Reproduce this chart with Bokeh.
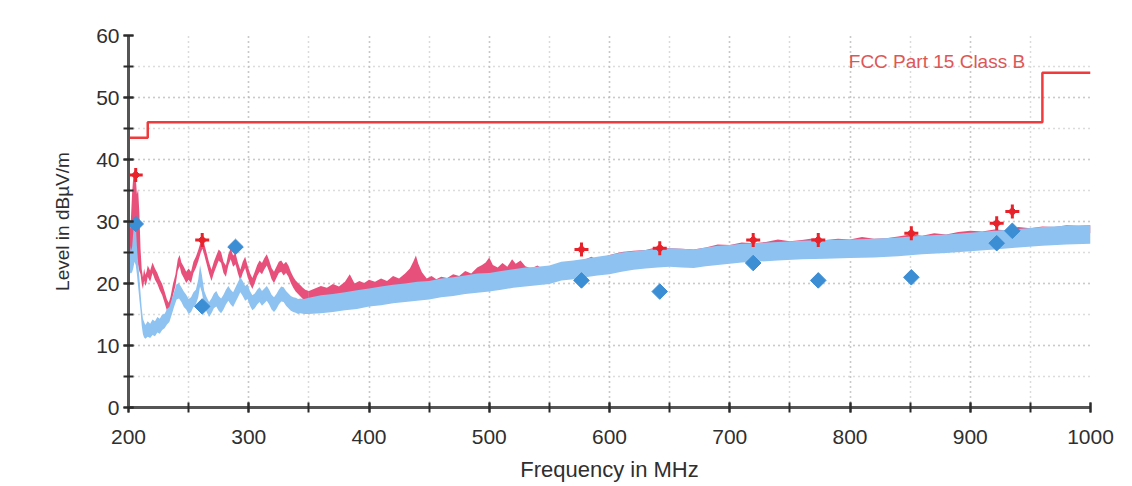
import math
from bokeh.plotting import figure
from bokeh.models import SingleIntervalTicker, Label, Range1d
from bokeh.embed import file_html
from bokeh.resources import INLINE

# ---- Data ----
# Limit line: FCC Part 15 Class B (value holds until next frequency)
limit_freq = [200, 216, 960, 1000]
limit_level = [43.5, 46.0, 54.0, 54.0]

# Peak trace (pink), 200-350 MHz: lower / upper edge of the trace
peak_freq_a = [200, 201, 202, 203, 204, 205, 206, 207, 208, 209, 210, 211, 212, 213, 214, 215,
               216, 218, 220, 222, 224, 226, 228, 230, 232, 233.5, 235, 237, 239, 241, 242.5,
               244, 246, 248, 250, 252, 254, 256, 258, 260, 261.5, 263, 265, 267, 269, 271,
               273, 275, 277, 279, 281, 283, 285, 287, 289, 291, 293, 295, 297, 299, 301, 303,
               305, 307, 309, 311, 313, 315, 317, 319, 321, 323, 325, 327, 329, 331, 333, 335,
               337, 339, 341, 343, 345, 347, 350]
peak_lo_a = [21.5, 22.0, 22.5, 23.0, 24.0, 25.0, 25.0, 24.0, 23.0, 22.0, 21.5, 19.9, 19.1, 20.5, 19.6, 20.1,
             21.1, 20.3, 21.7, 20.6, 19.9, 18.9, 18.1, 16.9, 15.6, 15.1, 16.1, 18.1, 19.6, 22.1, 22.8,
             21.6, 20.9, 20.1, 20.6, 20.1, 21.7, 22.5, 23.6, 24.9, 25.6, 24.6, 23.1, 21.6, 20.4, 21.7,
             22.7, 23.7, 23.3, 21.7, 21.1, 22.9, 23.9, 22.7, 23.1, 21.6, 20.4, 21.7, 22.5, 21.1, 19.9, 19.1,
             20.1, 21.2, 21.9, 21.5, 22.3, 22.9, 21.9, 20.7, 20.1, 20.9, 21.7, 21.9, 21.3, 21.7, 21.1, 20.1,
             19.3, 18.7, 18.3, 17.9, 17.5, 17.2, 17.0]
peak_hi_a = [25.2, 28.2, 30.4, 34.6, 37.3, 38.3, 37.2, 34.4, 35.2, 31.5, 25.6, 22.3, 21.0, 22.4, 21.4, 21.9,
             22.9, 22.1, 23.4, 22.4, 21.7, 20.7, 19.9, 18.7, 17.4, 16.9, 17.9, 19.9, 21.4, 23.9, 24.6,
             23.4, 22.7, 21.9, 22.4, 21.9, 23.5, 24.3, 25.4, 26.7, 27.5, 26.4, 24.9, 23.4, 22.2, 23.5,
             24.5, 25.5, 25.1, 23.5, 22.9, 24.7, 25.7, 24.5, 24.9, 23.4, 22.2, 23.5, 24.3, 22.9, 21.7, 20.9,
             21.9, 23.0, 23.7, 23.3, 24.1, 24.7, 23.7, 22.5, 21.9, 22.7, 23.5, 23.7, 23.1, 23.5, 22.9, 21.9,
             21.1, 20.5, 20.1, 19.7, 19.3, 19.0, 18.8]

# Peak trace (pink), 350-1000 MHz: lower / upper edge of the band
peak_freq_b = [350, 355, 360, 365, 370, 375, 380, 384, 388, 392, 396, 400, 405, 410, 415, 420,
               425, 430, 434, 437, 439, 441, 444, 448, 452, 456, 460, 465, 470, 475, 480, 485,
               490, 494, 497, 500, 503, 507, 511, 515, 519, 522, 526, 530, 535, 540, 545, 550,
               555, 560, 565, 570, 575, 580, 585, 590, 595, 600, 610, 620, 630, 640, 650, 660,
               670, 680, 690, 700, 710, 720, 730, 740, 750, 760, 770, 780, 790, 800, 810, 820,
               830, 840, 850, 860, 870, 880, 890, 900, 910, 920, 930, 940, 950, 960, 970, 980,
               990, 1000]
peak_lo_b = [16.5, 16.5, 16.6, 16.8, 16.9, 17, 17.2, 17.3, 17.4, 17.5, 17.6, 17.8, 17.9, 18, 18.1, 18.3,
             18.4, 18.5, 18.6, 18.6, 18.7, 18.7, 18.8, 18.9, 19, 19.1, 19.3, 19.4, 19.5, 19.6, 19.8, 19.9,
             20, 20.1, 20.1, 20.2, 20.3, 20.4, 20.5, 20.6, 20.7, 20.8, 20.9, 21, 21.1, 21.2, 21.3, 21.4,
             21.7, 22, 22.1, 22.2, 22.4, 22.5, 22.6, 22.8, 23, 23.2, 23.6, 23.9, 24.1, 24.3, 24.4, 24.3,
             24.2, 24.5, 24.7, 24.9, 25.1, 25.2, 25.3, 25.4, 25.5, 25.6, 25.6, 25.7, 25.7, 25.8, 25.8, 25.9,
             26, 26.1, 26.3, 26.4, 26.5, 26.6, 26.7, 26.9, 27, 27.2, 27.3, 27.5, 27.6, 27.8, 27.9, 28,
             28.1, 28.1]
peak_hi_b = [18.8, 19.2, 19.6, 19.3, 19.9, 19.5, 20.3, 21.5, 20, 20.4, 20.1, 20.6, 20.3, 20.8, 20.4, 21.2,
             20.8, 21.6, 22.4, 23.6, 24.5, 23.2, 21.8, 20.8, 21.2, 20.7, 21.1, 20.9, 21.5, 21.2, 22, 21.6,
             22.6, 23, 23.4, 24.2, 23, 22.6, 23.3, 22.7, 23.9, 23.2, 23.7, 22.8, 22.4, 22.9, 22.3, 22.7,
             22.2, 22.6, 22.5, 22.9, 23.6, 23.9, 24.3, 23.8, 24.2, 24.6, 25.1, 25.3, 25.4, 25.9, 25.7, 25.6,
             25.5, 25.8, 26.3, 26.2, 26.6, 26.5, 26.7, 27.1, 26.8, 27.0, 27.3, 27.0, 27.2, 27.1, 27.5, 27.2,
             27.3, 27.6, 27.9, 27.7, 28.1, 27.9, 28.3, 28.5, 28.4, 28.7, 28.6, 29.1, 28.9, 29.2, 29.1, 29.4,
             29.3, 29.4]

# Average trace (light blue): lower / upper edge of the trace
avg_freq = [200, 201, 202, 203, 204, 205, 206, 207, 208, 209, 210, 211, 212, 213, 214, 216,
            218, 220, 222, 224, 226, 228, 230, 232, 234, 236, 238, 240, 242, 244, 246, 248,
            250, 252, 254, 256, 258, 259.5, 261, 263, 265, 267, 269, 271, 273, 275, 277, 279,
            281, 283, 285, 287, 289, 291, 293, 295, 297, 299, 301, 303, 305, 307, 309, 311,
            313, 315, 317, 319, 321, 323, 325, 327, 329, 331, 333, 335, 337, 339, 341, 343,
            346, 350, 360, 370, 380, 390, 400, 410, 420, 430, 440, 450, 460, 470, 480, 490,
            500, 510, 520, 530, 540, 550, 560, 570, 580, 590, 600, 610, 620, 630, 640, 650,
            660, 670, 680, 690, 700, 710, 720, 740, 760, 780, 800, 820, 840, 860, 880, 900,
            920, 940, 960, 980, 1000]
avg_lo = [21.5, 21.8, 21.6, 21.8, 22.5, 23.5, 23.0, 21.5, 19.5, 17.5, 15.6, 13.2, 11.8, 11.3, 11.1, 11.4,
          11.2, 11.7, 11.5, 12.1, 11.9, 12.5, 12.8, 13.4, 13.8, 15.0, 16.3, 17.4, 17.6, 17.0, 16.2, 15.8,
          15.1, 15.4, 16.2, 16.6, 17.8, 19.5, 18.6, 16.4, 15.4, 14.6, 15.2, 16.0, 16.3, 15.6, 15.2, 15.8,
          16.6, 17.2, 16.6, 16.2, 17.0, 17.8, 18.6, 18.0, 17.2, 17.5, 16.4, 15.7, 16.0, 16.6, 17.0, 16.4,
          16.8, 17.2, 16.6, 15.8, 15.4, 15.9, 16.6, 17.1, 17.0, 16.4, 16.0, 15.6, 15.4, 15.3, 15.1, 15.2,
          15.1, 15.1, 15.2, 15.4, 15.7, 15.9, 16.3, 16.5, 16.8, 17.0, 17.2, 17.4, 17.8, 18.0, 18.3, 18.5,
          18.7, 19.0, 19.3, 19.5, 19.7, 19.9, 20.5, 20.7, 21.0, 21.3, 21.5, 21.9, 22.2, 22.4, 22.6, 22.7,
          22.6, 22.5, 22.8, 23.0, 23.2, 23.4, 23.5, 23.7, 23.9, 24.0, 24.1, 24.2, 24.4, 24.7, 24.9, 25.2,
          25.5, 25.8, 26.1, 26.3, 26.4]
avg_hi = [25.8, 26.4, 25.2, 25.9, 28.3, 30.8, 29.8, 26.0, 23.4, 21.0, 18.5, 16.0, 14.3, 13.8, 13.3, 13.9,
          13.5, 14.2, 13.9, 14.6, 14.3, 15.0, 15.1, 15.9, 16.2, 17.5, 18.7, 19.9, 20.0, 19.4, 18.7, 18.2,
          17.5, 17.8, 18.6, 19.0, 20.6, 23.0, 21.4, 18.8, 17.8, 17.0, 17.6, 18.4, 18.8, 18.0, 17.6, 18.2,
          19.0, 19.6, 19.0, 18.6, 19.4, 20.2, 21.0, 20.4, 19.6, 19.9, 18.8, 18.1, 18.4, 19.0, 19.4, 18.8,
          19.2, 19.6, 19.0, 18.2, 17.8, 18.3, 19.0, 19.5, 19.4, 18.8, 18.4, 18.0, 17.8, 17.7, 17.5, 17.6,
          17.5, 17.7, 18.1, 18.3, 18.6, 18.9, 19.2, 19.5, 19.8, 20.0, 20.3, 20.4, 20.8, 21.0, 21.3, 21.6,
          21.7, 22.0, 22.3, 22.6, 22.7, 22.9, 23.5, 23.7, 24.0, 24.3, 24.6, 25.0, 25.2, 25.4, 25.6, 25.7,
          25.6, 25.5, 25.8, 26.1, 26.2, 26.4, 26.5, 26.7, 26.9, 27.0, 27.1, 27.2, 27.4, 27.7, 27.9, 28.2,
          28.5, 28.8, 29.1, 29.3, 29.4]

# Final measurements: peak (red stars) and average (blue diamonds)
pk_freq = [206, 261.3, 576.7, 641.8, 719.5, 773.6, 851, 922, 935]
pk_level = [37.5, 27.0, 25.5, 25.7, 27.0, 27.0, 28.1, 29.7, 31.6]
av_freq = [206, 261.3, 289, 576.7, 641.8, 719.5, 773.6, 851, 922, 935]
av_level = [29.6, 16.3, 25.9, 20.5, 18.7, 23.3, 20.5, 21.0, 26.5, 28.5]

x_tick_interval = 100
y_tick_interval = 10

PINK = "#e8507c"
BLUE = "#8ec2f0"

# ---- Figure ----
p = figure(width=1132, height=486, x_range=Range1d(200, 1000), y_range=Range1d(0, 60),
           output_backend="svg", toolbar_location=None,
           min_border_left=128, min_border_right=42, min_border_top=35, min_border_bottom=79)
p.outline_line_color = None
p.background_fill_color = "white"
p.border_fill_color = "white"

for g in (p.xgrid, p.ygrid):
    g.grid_line_color = "#b8b8b8"
    g.grid_line_dash = "1 4"
    g.grid_line_width = 1.5
    g.minor_grid_line_color = "#b8b8b8"
    g.minor_grid_line_dash = "1 4"
    g.minor_grid_line_width = 1.5

p.xaxis.ticker = SingleIntervalTicker(interval=x_tick_interval, num_minor_ticks=2)
p.yaxis.ticker = SingleIntervalTicker(interval=y_tick_interval, num_minor_ticks=2)

for ax in (p.xaxis, p.yaxis):
    ax.axis_line_color = "#555555"
    ax.axis_line_width = 3
    ax.major_tick_line_color = "#2b2b2b"
    ax.minor_tick_line_color = "#2b2b2b"
    ax.major_tick_line_width = 2
    ax.minor_tick_line_width = 2
    ax.major_tick_in = 5
    ax.major_tick_out = 5
    ax.minor_tick_in = 5
    ax.minor_tick_out = 5
    ax.major_label_text_font = "Liberation Sans"
    ax.major_label_text_font_size = "21px"
    ax.major_label_text_color = "#2f2f2f"
    ax.axis_label_text_font = "Liberation Sans"
    ax.axis_label_text_font_style = "normal"
    ax.axis_label_text_color = "#2f2f2f"

p.xaxis.axis_label = "Frequency in MHz"
p.xaxis.axis_label_text_font_size = "22px"
p.xaxis.major_label_standoff = 17
p.xaxis.axis_label_standoff = 10
p.yaxis.axis_label = "Level in dBµV/m"
p.yaxis.axis_label_text_font_size = "19px"
p.yaxis.major_label_standoff = 4
p.yaxis.axis_label_standoff = 20

# traces
p.varea(x=peak_freq_a, y1=peak_lo_a, y2=peak_hi_a, fill_color=PINK)
p.varea(x=peak_freq_b, y1=peak_lo_b, y2=peak_hi_b, fill_color=PINK)
p.varea(x=avg_freq, y1=avg_lo, y2=avg_hi, fill_color=BLUE)

# limit line
p.step(x=limit_freq, y=limit_level, mode="after", line_color="#ef3b3b", line_width=2.5)

# markers
p.scatter(x=av_freq, y=av_level, marker="square", angle=math.pi / 4, size=11,
          fill_color="#3b8dd4", line_color="#3b8dd4")
p.scatter(x=pk_freq, y=pk_level, marker="cross", size=14, line_color="#e8222a", line_width=3)
p.scatter(x=pk_freq, y=pk_level, marker="square", angle=math.pi / 4, size=6,
          fill_color="#e8222a", line_color="#e8222a")

# limit label
p.add_layout(Label(x=799, y=55.8, text="FCC Part 15 Class B", text_color="#e05656",
                   text_font="Liberation Sans", text_font_size="19px",
                   text_baseline="middle"))

open("out.html", "w").write(file_html(p, INLINE))
